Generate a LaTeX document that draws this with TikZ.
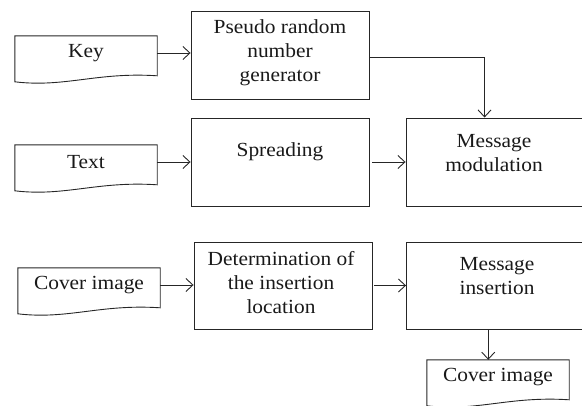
\documentclass[tikz,border=0pt]{standalone}
\usepackage{fontspec}
\setmainfont{Liberation Serif}[FakeStretch=1.07]
\usetikzlibrary{arrows.meta,calc}
\tikzset{
  line/.style={draw=black!85, line width=0.9pt},
  conn/.style={line, -{Straight Barb[length=7pt,width=13pt,line width=0.9pt]}},
  box/.style={line, minimum width=178pt, minimum height=88pt, inner sep=0pt},
  wbox/.style={line, minimum width=177.5pt, minimum height=88pt, inner sep=0pt},
  txt/.style={align=center, inner sep=0pt, font=\fontsize{20}{24}\selectfont, text=black!90},
  doc/.style={txt, minimum width=142pt, minimum height=34pt},
}
\newcommand\docout[1]{%
  \draw[line] (#1.north west) -- ($(#1.north west)+(0,46)$)
    .. controls ($(#1.north west)+(50,52)$) and ($(#1.north east)+(-60,36)$)
    .. ($(#1.north east)+(0,40)$) -- (#1.north east) -- cycle;}
\begin{document}
\begin{tikzpicture}[x=1pt,y=-1pt]
\useasboundingbox (0,0) rectangle (582,405);
\clip (0,0) rectangle (582,405);
% documents
\node[doc] (key) at (86,53) {Key};
\docout{key}
\node[doc] (text) at (86,162) {Text};
\docout{text}
\node[doc] (cover) at (89,285) {Cover image};
\docout{cover}
\node[doc] (out) at (498,377) {Cover image};
\docout{out}
% boxes
\node[box] (prng) at (280,55) {};
\node[txt] (prngt) at (280,53) {Pseudo random\\number\\generator};
\node[box] (spread) at (280,162) {};
\node[txt] (spreadt) at (280,152) {Spreading};
\node[wbox] (mod) at (494.75,162) {};
\node[txt] (modt) at (494,153.5) {Message\\modulation};
\node[box, minimum height=87pt] (det) at (283,285.5) {};
\node[txt] (dett) at (281,283) {Determination of\\the insertion\\location};
\node[wbox, minimum height=87pt] (ins) at (495.25,285.5) {};
\node[txt] (inst) at (497,276.5) {Message\\insertion};
% connectors
\draw[conn] (key.east) -- (key.east -| prng.west);
\draw[conn] (text.east) -- (text.east -| spread.west);
\draw[conn] ([xshift=3pt]spread.east) -- (spread.east -| mod.west);
\draw[conn] ([yshift=-2pt]prng.east) -| ([xshift=79pt]mod.north west);
\draw[conn] (cover.east) -- (cover.east -| det.west);
\draw[conn] ([xshift=2pt]det.east) -- (det.east -| ins.west);
\draw[conn] ([xshift=-7pt]ins.south) -- ([xshift=-7pt]ins.south |- out.north);
\end{tikzpicture}
\end{document}
